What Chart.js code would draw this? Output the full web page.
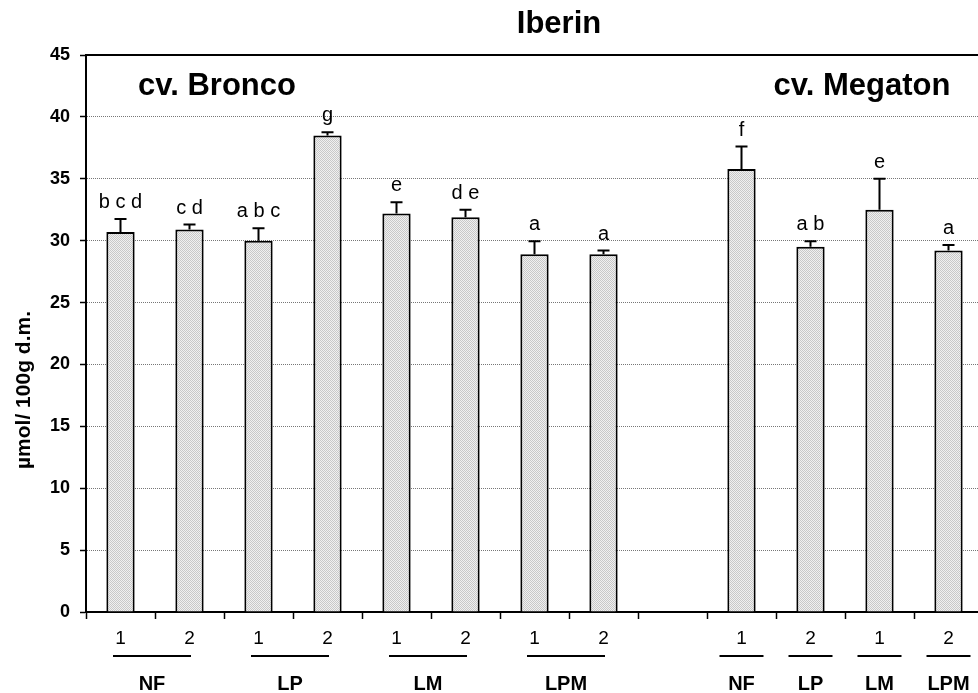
<!DOCTYPE html>
<html>
<head>
<meta charset="utf-8">
<title>Iberin</title>
<script src="https://cdn.jsdelivr.net/npm/chart.js@4.4.0/dist/chart.umd.min.js"></script>
<style>
  html, body { margin: 0; padding: 0; background: #fff; overflow: hidden; }
  #wrap { width: 990px; height: 693px; }
</style>
</head>
<body>
<div id="wrap"><canvas id="iberinChart" width="990" height="693"></canvas></div>
<script>
// bar order: cv. Bronco (8 bars), empty slot, cv. Megaton (4 bars)
const categories = ['1', '2', '1', '2', '1', '2', '1', '2', '', '1', '2', '1', '2'];
const means = [30.7, 30.9, 30.0, 38.5, 32.2, 31.9, 28.9, 28.9, null, 35.8, 29.5, 32.5, 29.2];
const errors = [1.05, 0.4, 1.0, 0.25, 0.9, 0.6, 1.05, 0.3, null, 1.8, 0.45, 2.5, 0.45];
const letters = ['b c d', 'c d', 'a b c', 'g', 'e', 'd e', 'a', 'a', '', 'f', 'a b', 'e', 'a'];

const groupNames = ['NF', 'LP', 'LM', 'LPM', 'NF', 'LP', 'LM', 'LPM'];
const groupFirst = [0, 2, 4, 6, 9, 10, 11, 12];
const groupLast = [1, 3, 5, 7, 9, 10, 11, 12];

const FONT = '"Liberation Sans", Arial, Helvetica, sans-serif';
Chart.defaults.font.family = FONT;
Chart.defaults.color = '#000';

// stippled grey fill like the original
function stipple() {
  const c = document.createElement('canvas');
  c.width = 2; c.height = 2;
  const g = c.getContext('2d');
  g.fillStyle = '#f0f0f0'; g.fillRect(0, 0, 2, 2);
  g.fillStyle = '#c8c8c8'; g.fillRect(0, 0, 1, 1); g.fillRect(1, 1, 1, 1);
  return g.createPattern(c, 'repeat');
}

const extras = {
  id: 'extras',
  afterDatasetsDraw(chart) {
    const { ctx, chartArea, scales: { x, y } } = chart;
    ctx.save();
    ctx.strokeStyle = '#000';
    ctx.fillStyle = '#000';
    ctx.lineWidth = 2;

    // top frame line at 45
    ctx.beginPath();
    ctx.moveTo(chartArea.left, chartArea.top);
    ctx.lineTo(chartArea.right, chartArea.top);
    ctx.stroke();

    // error bars + significance letters
    ctx.font = '20px ' + FONT;
    ctx.textAlign = 'center';
    ctx.textBaseline = 'alphabetic';
    means.forEach((m, i) => {
      if (m == null) return;
      const cx = x.getPixelForValue(i);
      const y0 = y.getPixelForValue(m);
      const y1 = y.getPixelForValue(m + errors[i]);
      ctx.beginPath();
      ctx.moveTo(cx, y0); ctx.lineTo(cx, y1);
      ctx.moveTo(cx - 6, y1); ctx.lineTo(cx + 6, y1);
      ctx.stroke();
      ctx.fillText(letters[i], cx, y1 - 11);
    });

    // treatment underlines and names below the axis
    ctx.font = 'bold 20px ' + FONT;
    ctx.textBaseline = 'middle';
    groupNames.forEach((name, k) => {
      const a = x.getPixelForValue(groupFirst[k]);
      const b = x.getPixelForValue(groupLast[k]);
      let x0, x1, tx;
      if (groupFirst[k] === groupLast[k]) {
        x0 = a - 22; x1 = a + 22; tx = a;
      } else {
        const mid = (a + b) / 2;
        x0 = mid - 42; x1 = mid + 36; tx = mid - 3;
      }
      ctx.beginPath();
      ctx.moveTo(x0, 656); ctx.lineTo(x1, 656);
      ctx.stroke();
      ctx.fillText(name, tx, 684);
    });

    // titles
    ctx.font = 'bold 31px ' + FONT;
    ctx.textBaseline = 'alphabetic';
    ctx.fillText('Iberin', 559, 33);
    ctx.fillText('cv. Bronco', 217, 95);
    ctx.fillText('cv. Megaton', 862, 95);

    // y axis title
    ctx.font = 'bold 21px ' + FONT;
    ctx.translate(24, 390);
    ctx.rotate(-Math.PI / 2);
    ctx.textBaseline = 'middle';
    ctx.fillText('\u00b5mol/ 100g d.m.', 0, 0);
    ctx.restore();
  }
};

new Chart(document.getElementById('iberinChart'), {
  type: 'bar',
  data: {
    labels: categories,
    datasets: [{
      data: means,
      backgroundColor: stipple(),
      borderColor: '#000',
      borderWidth: 2,
      borderSkipped: 'bottom',
      categoryPercentage: 1,
      barPercentage: 0.41
    }]
  },
  options: {
    responsive: false,
    animation: false,
    devicePixelRatio: 1,
    layout: { padding: { top: 55, right: 7, left: 0, bottom: 0 } },
    plugins: { legend: { display: false }, tooltip: { enabled: false }, title: { display: false } },
    scales: {
      x: {
        offset: true,
        grid: { offset: true, drawOnChartArea: false, drawTicks: true, tickLength: 7, tickColor: '#000', tickWidth: 1.5 },
        border: { color: '#000', width: 2 },
        ticks: { color: '#000', font: { size: 19 }, padding: 8, maxRotation: 0, autoSkip: false },
        afterFit(scale) { scale.height = 81; }
      },
      y: {
        min: 0,
        max: 45,
        ticks: { stepSize: 5, color: '#000', font: { size: 18, weight: 'bold' }, padding: 10 },
        grid: {
          color: (c) => (c.tick.value === 0 || c.tick.value === 45) ? 'rgba(0,0,0,0)' : '#777',
          lineWidth: 1,
          tickLength: 6,
          tickColor: '#000',
          tickWidth: 1.5
        },
        border: { color: '#000', width: 2, dash: [1, 1] },
        afterFit(scale) { scale.width = 86; }
      }
    }
  },
  plugins: [extras]
});
</script>
</body>
</html>
